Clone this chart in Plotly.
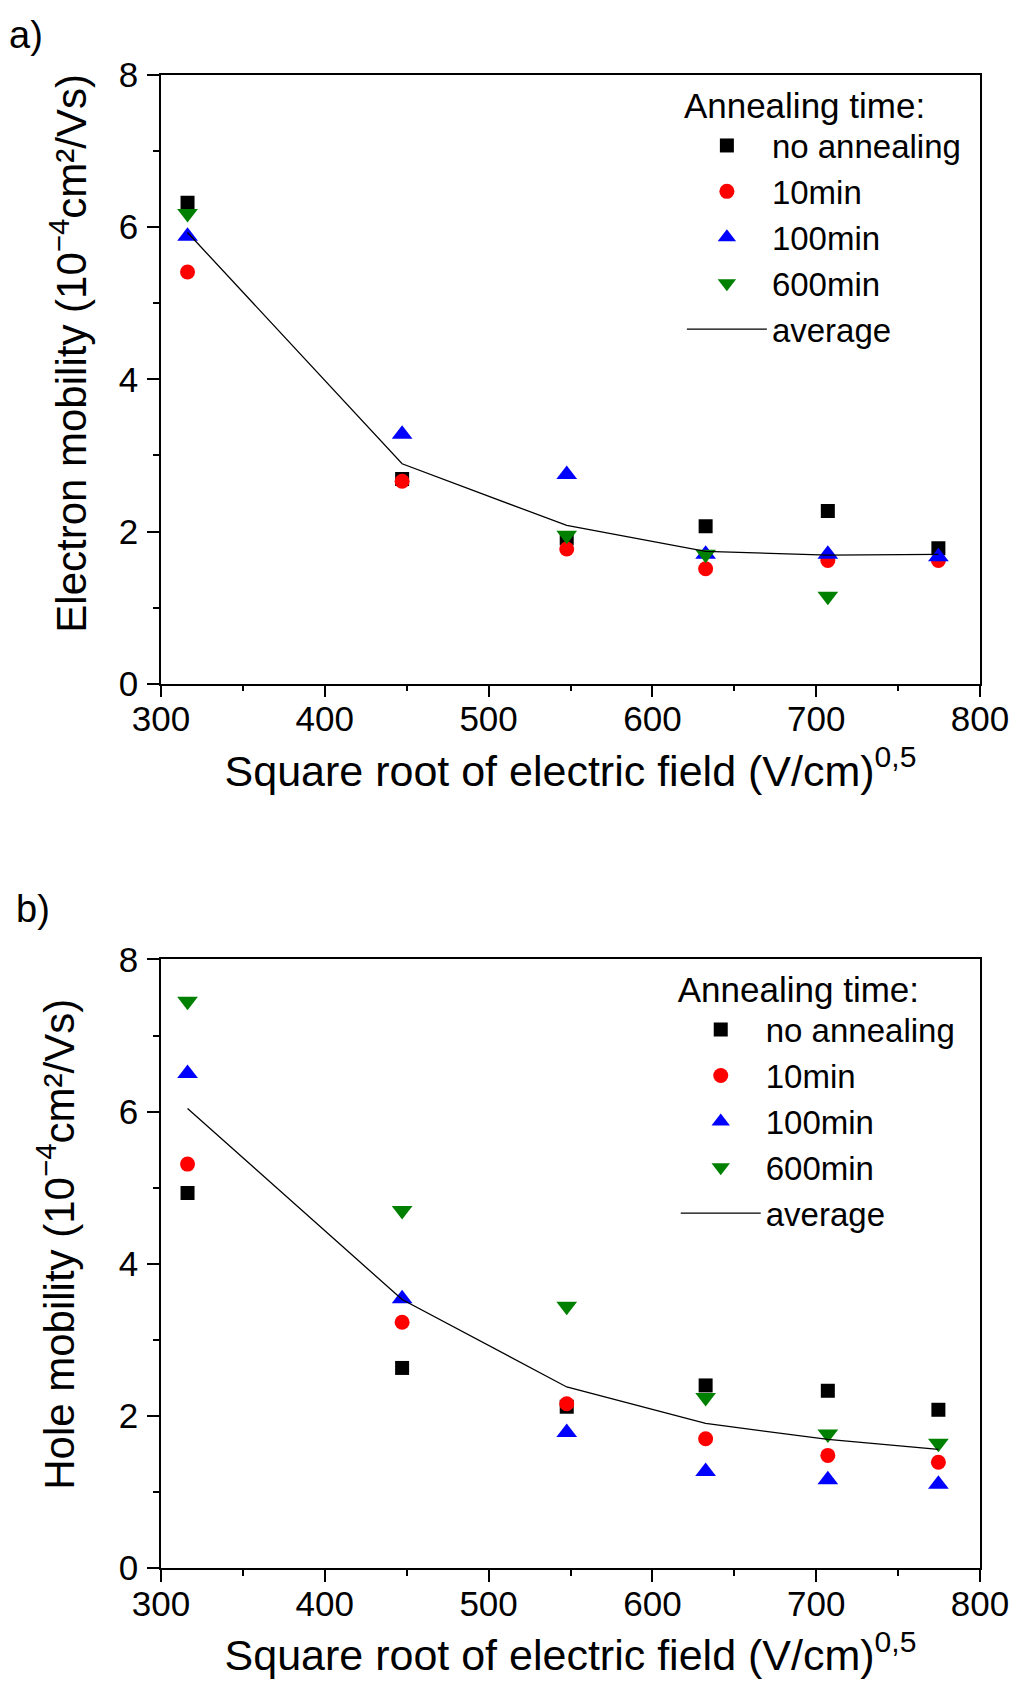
import plotly.graph_objects as go
from plotly.subplots import make_subplots

# square root of the electric field, (V/cm)^0.5
field = [316.2, 447.2, 547.7, 632.5, 707.1, 774.6]

# a) electron mobility, 1e-4 cm²/Vs
el_none = [6.32, 2.69, 1.91, 2.07, 2.27, 1.78]
el_10 = [5.41, 2.66, 1.77, 1.51, 1.62, 1.62]
el_100 = [5.88, 3.28, 2.75, 1.70, 1.70, 1.67]
el_600 = [6.18, None, 1.95, 1.70, 1.15, None]
el_avg = [5.93, 2.89, 2.08, 1.74, 1.69, 1.70]

# b) hole mobility, 1e-4 cm²/Vs
ho_none = [4.93, 2.63, 2.12, 2.40, 2.33, 2.08]
ho_10 = [5.31, 3.23, 2.16, 1.70, 1.48, 1.39]
ho_100 = [6.50, 3.54, 1.78, 1.27, 1.16, 1.10]
ho_600 = [7.45, 4.70, 3.44, 2.24, 1.76, 1.64]
ho_avg = [6.04, 3.53, 2.38, 1.90, 1.69, 1.56]

series_names = ["no annealing", "10min", "100min", "600min"]
colors = ["black", "#ff0000", "#0000ff", "#008000"]
symbols = ["square", "circle", "triangle-up", "triangle-down"]
sizes = [14, 15, 18, 18]

FONT = "Liberation Sans, Arial, sans-serif"

fig = make_subplots(rows=2, cols=1)

panels = [
    (1, "legend", [el_none, el_10, el_100, el_600], el_avg),
    (2, "legend2", [ho_none, ho_10, ho_100, ho_600], ho_avg),
]
for row, leg, groups, avg in panels:
    for name, vals, col, sym, sz in zip(series_names, groups, colors, symbols, sizes):
        fig.add_trace(go.Scatter(x=field, y=vals, mode="markers", name=name, legend=leg,
                                 marker=dict(symbol=sym, color=col, size=sz, line=dict(width=0))),
                      row=row, col=1)
    fig.add_trace(go.Scatter(x=field, y=avg, mode="lines", name="average", legend=leg,
                             line=dict(color="black", width=1.3)),
                  row=row, col=1)

axis_style = dict(showline=True, linecolor="black", linewidth=1.5, mirror=True,
                  ticks="outside", ticklen=12, tickwidth=1.5, tickcolor="black",
                  showgrid=False, zeroline=False,
                  tickfont=dict(size=35, color="black", family=FONT))

fig.update_xaxes(range=[300, 800], dtick=100, tick0=300, ticklabelstandoff=-8,
                 minor=dict(ticks="outside", ticklen=6, tickwidth=1.5, tickcolor="black", dtick=50),
                 title=dict(text="Square root of electric field (V/cm)<sup>0,5</sup>",
                            font=dict(size=43, color="black", family=FONT), standoff=18),
                 **axis_style)
fig.update_yaxes(range=[0, 8], dtick=2, tick0=0, ticklabelstandoff=2,
                 minor=dict(ticks="outside", ticklen=6, tickwidth=1.5, tickcolor="black", dtick=1),
                 **axis_style)

# the page body adds 8px on the left and top, so the figure is 8px smaller
fig.update_layout(
    width=1013, height=1678,
    margin=dict(l=152.7, r=35.3, t=66.5, b=118.3),
    plot_bgcolor="white", paper_bgcolor="white",
    font=dict(family=FONT, color="black"),
    yaxis=dict(domain=[0.5923, 1.0]),
    yaxis2=dict(domain=[0.0, 0.4076]),
    legend=dict(x=0.636, y=1.002, xanchor="left", yanchor="top",
                bgcolor="rgba(0,0,0,0)", itemwidth=80,
                font=dict(size=33, family=FONT, color="black"),
                title=dict(text="Annealing time:", font=dict(size=35, family=FONT, color="black"))),
    legend2=dict(x=0.6285, y=0.4098, xanchor="left", yanchor="top",
                 bgcolor="rgba(0,0,0,0)", itemwidth=80,
                 font=dict(size=33, family=FONT, color="black"),
                 title=dict(text="Annealing time:", font=dict(size=35, family=FONT, color="black"))),
)

# y titles and panel labels
fig.add_annotation(text="Electron mobility (10<sup>−4</sup>cm²/Vs)", textangle=-90,
                   xref="paper", yref="paper", x=-0.112, y=0.8135,
                   xanchor="center", yanchor="middle", showarrow=False,
                   font=dict(size=42, family=FONT, color="black"))
fig.add_annotation(text="Hole mobility (10<sup>−4</sup>cm²/Vs)", textangle=-90,
                   xref="paper", yref="paper", x=-0.1276, y=0.2168,
                   xanchor="center", yanchor="middle", showarrow=False,
                   font=dict(size=42, family=FONT, color="black"))
fig.add_annotation(text="a)", xref="paper", yref="paper", x=-0.1875, y=1.0265,
                   xanchor="left", yanchor="middle", showarrow=False,
                   font=dict(size=38, family=FONT, color="black"))
fig.add_annotation(text="b)", xref="paper", yref="paper", x=-0.179, y=0.4411,
                   xanchor="left", yanchor="middle", showarrow=False,
                   font=dict(size=38, family=FONT, color="black"))

fig.write_html("out.html")
